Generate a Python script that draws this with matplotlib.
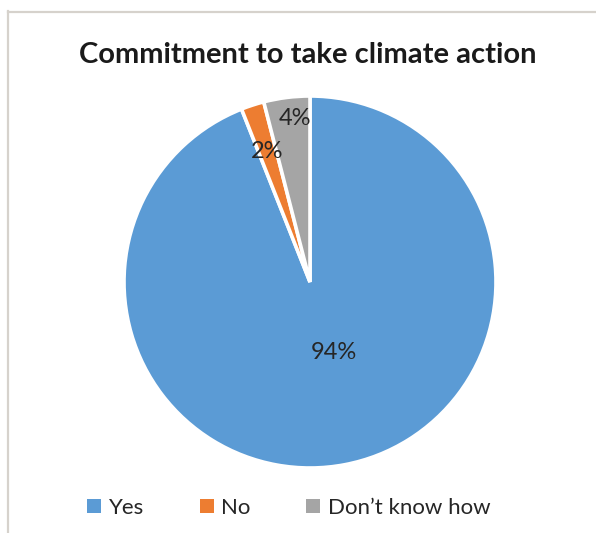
import matplotlib
matplotlib.use("Agg")
import matplotlib.pyplot as plt
import numpy as np
from matplotlib.lines import Line2D
from matplotlib.patches import Patch

categories = ["Yes", "No", "Don\u2019t know how"]
values = [94, 2, 4]
pct_labels = ["94%", "2%", "4%"]
colors = ["#5B9BD5", "#ED7D31", "#A5A5A5"]
title = "Commitment to take climate action"

plt.rcParams['font.family'] = ['Lato', 'DejaVu Sans']

W, H = 596, 533
fig = plt.figure(figsize=(W/100, H/100), dpi=100)

cx, cy, r = 310, 282, 186
ax = fig.add_axes([(cx - r)/W, (H - cy - r)/H, 2*r/W, 2*r/H])
wedges, _ = ax.pie(values, colors=colors, startangle=90, counterclock=False,
                   wedgeprops=dict(edgecolor="white", linewidth=2.6), radius=1.0)
ax.set_xlim(-1, 1)
ax.set_ylim(-1, 1)
ax.set_aspect('equal')
ax.axis('off')

# label placement: radial distance and angular offset (degrees) per slice
dists = [0.40, 0.74, 0.88]
offsets = [8, 0, -2]
total = sum(values)
cum = 0
for v, lab, d, off in zip(values, pct_labels, dists, offsets):
    mid = 90 - (cum + v/2)/total*360 + off
    cum += v
    ang = np.deg2rad(mid)
    ax.text(d*np.cos(ang), d*np.sin(ang), lab, ha='center', va='center',
            fontsize=17, color='#262626')

fig.text(308/W, 1 - 55/H, title, ha='center', va='center', fontsize=21,
         fontweight='bold', color='#1a1a1a')

handles = [Patch(facecolor=c, edgecolor='none') for c in colors]
fig.legend(handles, categories, loc='center', bbox_to_anchor=(289/W, 1 - 508/H),
           ncol=3, frameon=False, fontsize=16, handlelength=0.62, handleheight=0.62,
           handletextpad=0.35, columnspacing=2.5, labelcolor='#262626')

bc = '#d6d2cc'
fig.add_artist(Line2D([8/W, 1], [1 - 11.5/H, 1 - 11.5/H], transform=fig.transFigure,
                      color=bc, linewidth=1.6))
fig.add_artist(Line2D([8/W, 8/W], [0, 1 - 11/H], transform=fig.transFigure,
                      color=bc, linewidth=1.6))

fig.savefig("out.png", dpi=100, facecolor='white')
